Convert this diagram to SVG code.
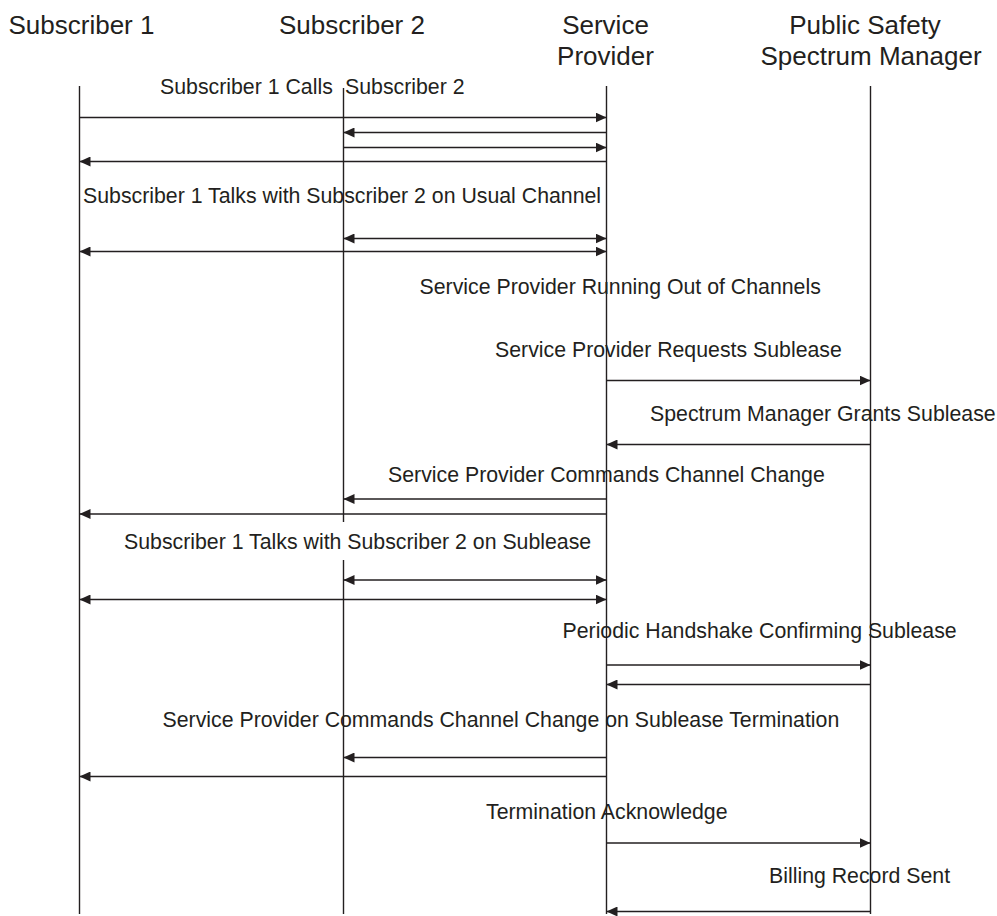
<svg xmlns="http://www.w3.org/2000/svg" width="997" height="916" viewBox="0 0 997 916">
  <style>
    text { font-family: "Liberation Sans", Arial, Helvetica, sans-serif; fill: #231f20; }
    .hdr { font-size: 26px; }
    .lbl { font-size: 21.3px; }
    .life { stroke: #231f20; stroke-width: 1.4; fill: none; }
    .msg { stroke: #231f20; stroke-width: 1.4; fill: none; marker-end: url(#head); }
    .both { marker-start: url(#head); }
  </style>
  <defs>
    <marker id="head" markerUnits="userSpaceOnUse" markerWidth="11" markerHeight="10" refX="11" refY="5" orient="auto-start-reverse">
      <path d="M0,0 L11,5 L0,10 z" fill="#231f20"/>
    </marker>
  </defs>
  <rect width="997" height="916" fill="#ffffff"/>

  <!-- participants: heading and lifeline -->
  <g id="subscriber1">
    <text class="hdr" x="8.5" y="34">Subscriber 1</text>
    <line class="life" x1="79.5" y1="86" x2="79.5" y2="914"/>
  </g>
  <g id="subscriber2">
    <text class="hdr" x="279" y="34">Subscriber 2</text>
    <line class="life" x1="343.5" y1="88" x2="343.5" y2="522"/>
    <line class="life" x1="343.5" y1="560" x2="343.5" y2="914"/>
  </g>
  <g id="service-provider">
    <text class="hdr" x="605.5" y="34" text-anchor="middle">Service</text>
    <text class="hdr" x="605.5" y="65" text-anchor="middle">Provider</text>
    <line class="life" x1="606.5" y1="86" x2="606.5" y2="914"/>
  </g>
  <g id="spectrum-manager">
    <text class="hdr" x="865" y="34" text-anchor="middle">Public Safety</text>
    <text class="hdr" x="871" y="65" text-anchor="middle">Spectrum Manager</text>
    <line class="life" x1="870.5" y1="86" x2="870.5" y2="914"/>
  </g>

  <!-- messages -->
  <g id="connectors">
    <line class="msg" x1="79.5" y1="117.5" x2="606.5" y2="117.5"/>
    <line class="msg" x1="606.5" y1="132.5" x2="343.5" y2="132.5"/>
    <line class="msg" x1="343.5" y1="147.5" x2="606.5" y2="147.5"/>
    <line class="msg" x1="606.5" y1="161.5" x2="79.5" y2="161.5"/>

    <line class="msg both" x1="343.5" y1="238.5" x2="606.5" y2="238.5"/>
    <line class="msg both" x1="79.5" y1="251.5" x2="606.5" y2="251.5"/>

    <line class="msg" x1="606.5" y1="380.5" x2="870.5" y2="380.5"/>
    <line class="msg" x1="870.5" y1="444.5" x2="606.5" y2="444.5"/>

    <line class="msg" x1="606.5" y1="499" x2="343.5" y2="499"/>
    <line class="msg" x1="606.5" y1="514" x2="79.5" y2="514"/>

    <line class="msg both" x1="343.5" y1="580" x2="606.5" y2="580"/>
    <line class="msg both" x1="79.5" y1="599.5" x2="606.5" y2="599.5"/>

    <line class="msg" x1="606.5" y1="665" x2="870.5" y2="665"/>
    <line class="msg" x1="870.5" y1="684.5" x2="606.5" y2="684.5"/>

    <line class="msg" x1="606.5" y1="757.5" x2="343.5" y2="757.5"/>
    <line class="msg" x1="606.5" y1="776.5" x2="79.5" y2="776.5"/>

    <line class="msg" x1="606.5" y1="843" x2="870.5" y2="843"/>
    <line class="msg" x1="870.5" y1="911.5" x2="606.5" y2="911.5"/>
  </g>

  <!-- message labels -->
  <g id="labels">
    <text class="lbl" x="160" y="93.5">Subscriber 1 Calls <tspan x="345">Subscriber 2</tspan></text>
    <text class="lbl" x="83" y="202.5">Subscriber 1 Talks with Subscriber 2 on Usual Channel</text>
    <text class="lbl" x="419.5" y="294">Service Provider Running Out of Channels</text>
    <text class="lbl" x="495" y="357">Service Provider Requests Sublease</text>
    <text class="lbl" x="650" y="420.5">Spectrum Manager Grants Sublease</text>
    <text class="lbl" x="388" y="481.5">Service Provider Commands Channel Change</text>
    <text class="lbl" x="124" y="548.5">Subscriber 1 Talks with Subscriber 2 on Sublease</text>
    <text class="lbl" x="562.5" y="638">Periodic Handshake Confirming Sublease</text>
    <text class="lbl" x="162.5" y="727">Service Provider Commands Channel Change on Sublease Termination</text>
    <text class="lbl" x="486" y="818.5">Termination Acknowledge</text>
    <text class="lbl" x="769" y="883">Billing Record Sent</text>
  </g>
</svg>
